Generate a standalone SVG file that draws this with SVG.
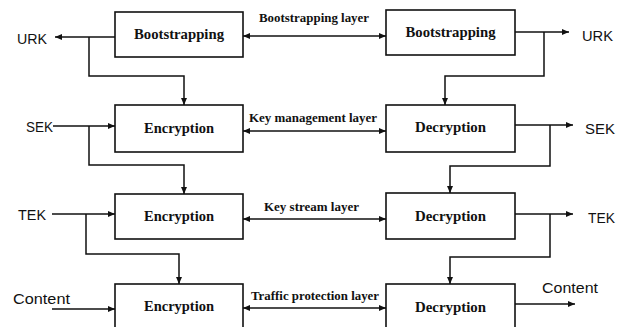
<svg xmlns="http://www.w3.org/2000/svg" width="624" height="327" viewBox="0 0 624 327">
  <style>
    .box { fill: #ffffff; stroke: #111111; stroke-width: 1.6; }
    .blk { font-family: "Liberation Serif", "Times New Roman", serif; font-weight: bold; font-size: 14.5px; fill: #111111; text-anchor: middle; }
    .lay { font-family: "Liberation Serif", "Times New Roman", serif; font-weight: bold; font-size: 13px; fill: #111111; text-anchor: middle; }
    .key { font-family: "Liberation Sans", Arial, sans-serif; font-size: 15px; fill: #111111; }
    .wire { fill: none; stroke: #111111; stroke-width: 1.5; }
    .head { marker-end: url(#arrow); }
    .both { marker-start: url(#arrow); marker-end: url(#arrow); }
  </style>
  <defs>
    <marker id="arrow" markerUnits="userSpaceOnUse" markerWidth="7" markerHeight="6" refX="7" refY="3" orient="auto-start-reverse">
      <path d="M0,0 L7,3 L0,6 z" fill="#111111"/>
    </marker>
  </defs>
  <rect width="624" height="327" fill="#ffffff"/>

  <!-- sender side -->
  <g id="enc-bootstrap">
    <rect class="box" x="115" y="12" width="128" height="45"/>
    <text class="blk" x="179" y="39" textLength="90" lengthAdjust="spacingAndGlyphs">Bootstrapping</text>
  </g>
  <g id="enc-keymgmt">
    <rect class="box" x="115" y="105" width="128" height="47"/>
    <text class="blk" x="179" y="133" textLength="70" lengthAdjust="spacingAndGlyphs">Encryption</text>
  </g>
  <g id="enc-keystream">
    <rect class="box" x="115" y="194" width="128" height="45"/>
    <text class="blk" x="179" y="221" textLength="70" lengthAdjust="spacingAndGlyphs">Encryption</text>
  </g>
  <g id="enc-traffic">
    <rect class="box" x="115" y="284" width="128" height="60"/>
    <text class="blk" x="179" y="311" textLength="70" lengthAdjust="spacingAndGlyphs">Encryption</text>
  </g>

  <!-- receiver side -->
  <g id="dec-bootstrap">
    <rect class="box" x="386" y="10" width="129" height="45"/>
    <text class="blk" x="450.5" y="37" textLength="90" lengthAdjust="spacingAndGlyphs">Bootstrapping</text>
  </g>
  <g id="dec-keymgmt">
    <rect class="box" x="386" y="105" width="129" height="47"/>
    <text class="blk" x="450.5" y="132" textLength="71" lengthAdjust="spacingAndGlyphs">Decryption</text>
  </g>
  <g id="dec-keystream">
    <rect class="box" x="386" y="193" width="129" height="46"/>
    <text class="blk" x="450.5" y="221" textLength="71" lengthAdjust="spacingAndGlyphs">Decryption</text>
  </g>
  <g id="dec-traffic">
    <rect class="box" x="386" y="284" width="129" height="60"/>
    <text class="blk" x="450.5" y="312" textLength="71" lengthAdjust="spacingAndGlyphs">Decryption</text>
  </g>

  <!-- key and content terminals -->
  <g id="urk-out">
    <text class="key" x="17" y="44" textLength="30" lengthAdjust="spacingAndGlyphs">URK</text>
  </g>
  <g id="sek-in">
    <text class="key" x="26" y="132" textLength="27" lengthAdjust="spacingAndGlyphs">SEK</text>
  </g>
  <g id="tek-in">
    <text class="key" x="18" y="220" textLength="28" lengthAdjust="spacingAndGlyphs">TEK</text>
  </g>
  <g id="content-in">
    <text class="key" x="13" y="304" textLength="57" lengthAdjust="spacingAndGlyphs">Content</text>
  </g>
  <g id="urk-rx">
    <text class="key" x="582" y="41" textLength="31" lengthAdjust="spacingAndGlyphs">URK</text>
  </g>
  <g id="sek-rx">
    <text class="key" x="585" y="134" textLength="30" lengthAdjust="spacingAndGlyphs">SEK</text>
  </g>
  <g id="tek-rx">
    <text class="key" x="588" y="223" textLength="27" lengthAdjust="spacingAndGlyphs">TEK</text>
  </g>
  <g id="content-rx">
    <text class="key" x="542" y="293" textLength="56" lengthAdjust="spacingAndGlyphs">Content</text>
  </g>

  <!-- layer labels -->
  <g id="layer-labels">
    <text class="lay" x="314" y="22" textLength="110" lengthAdjust="spacingAndGlyphs">Bootstrapping layer</text>
    <text class="lay" x="313" y="122" textLength="128" lengthAdjust="spacingAndGlyphs">Key management layer</text>
    <text class="lay" x="311.5" y="211" textLength="95" lengthAdjust="spacingAndGlyphs">Key stream layer</text>
    <text class="lay" x="315" y="300" textLength="128" lengthAdjust="spacingAndGlyphs">Traffic protection layer</text>
  </g>

  <g id="connectors">
    <!-- layer links between the two sides -->
    <line class="wire both" x1="243" y1="36" x2="386" y2="36"/>
    <line class="wire both" x1="243" y1="131" x2="386" y2="131"/>
    <line class="wire both" x1="243" y1="219" x2="386" y2="219"/>
    <line class="wire both" x1="243" y1="308" x2="386" y2="308"/>

    <!-- sender side -->
    <line class="wire head" x1="115" y1="37" x2="55" y2="37"/>
    <polyline class="wire head" points="89,37 89,76 184,76 184,105"/>
    <line class="wire head" x1="53" y1="126" x2="115" y2="126"/>
    <polyline class="wire head" points="89,126 89,165 184,165 184,194"/>
    <line class="wire head" x1="52" y1="214" x2="115" y2="214"/>
    <polyline class="wire head" points="86,214 86,254 179,254 179,284"/>
    <line class="wire head" x1="52" y1="309" x2="115" y2="309"/>

    <!-- receiver side -->
    <line class="wire head" x1="515" y1="32" x2="569" y2="32"/>
    <polyline class="wire head" points="544,32 544,76 445,76 445,105"/>
    <line class="wire head" x1="515" y1="125" x2="573" y2="125"/>
    <polyline class="wire head" points="550,125 550,166 450,166 450,193"/>
    <line class="wire head" x1="515" y1="214" x2="573" y2="214"/>
    <polyline class="wire head" points="550,214 550,257 450,257 450,284"/>
    <line class="wire head" x1="515" y1="304" x2="575" y2="304"/>
  </g>
</svg>
